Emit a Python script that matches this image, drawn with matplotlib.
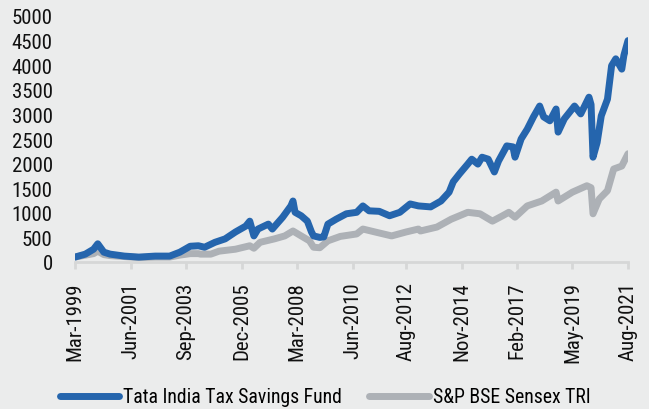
import pandas as pd
import matplotlib
matplotlib.use("Agg")
import matplotlib.pyplot as plt

# month-end style sample points (growth of 100)
fund_dates = ["1999-03", "1999-08", "1999-12", "2000-02", "2000-05", "2000-08", "2001-03",
              "2001-10", "2002-06", "2003-01", "2003-06", "2003-11", "2004-03", "2004-06",
              "2004-11", "2005-04", "2005-09", "2006-02", "2006-04", "2006-06", "2006-08",
              "2007-01", "2007-03", "2007-08", "2007-12", "2008-01", "2008-02", "2008-05",
              "2008-08", "2008-10", "2008-11", "2009-02", "2009-04", "2009-06", "2009-10",
              "2010-03", "2010-08", "2010-11", "2011-02", "2011-07", "2011-12", "2012-05",
              "2012-10", "2013-02", "2013-08", "2014-01", "2014-05", "2014-07", "2014-10",
              "2015-02", "2015-04", "2015-07", "2015-09", "2015-12", "2016-03", "2016-05",
              "2016-09", "2016-12", "2017-01", "2017-04", "2017-07", "2017-10", "2018-01",
              "2018-03", "2018-06", "2018-09", "2018-10", "2019-01", "2019-06", "2019-09",
              "2020-01", "2020-02", "2020-03", "2020-05", "2020-07", "2020-10", "2020-12",
              "2021-02", "2021-05", "2021-06", "2021-08"]
fund = [100, 160, 260, 370, 200, 160, 120,
        100, 120, 120, 200, 320, 330, 300,
        400, 470, 610, 730, 830, 530, 670,
        770, 670, 910, 1140, 1240, 1010, 940,
        830, 610, 530, 500, 510, 770, 870,
        980, 1010, 1140, 1040, 1030, 940, 1010,
        1180, 1140, 1120, 1240, 1420, 1630, 1790,
        1990, 2090, 1990, 2130, 2090, 1830, 2050,
        2360, 2340, 2130, 2500, 2700, 2950, 3170,
        2950, 2870, 3110, 2640, 2910, 3170, 3010,
        3350, 3200, 2130, 2430, 2970, 3310, 3990,
        4130, 3920, 4200, 4500]

idx_dates = ["1999-03", "1999-12", "2000-02", "2000-05", "2000-08", "2001-03", "2001-10",
             "2002-06", "2003-01", "2003-06", "2003-11", "2004-03", "2004-04", "2004-09",
             "2005-01", "2005-09", "2006-04", "2006-06", "2006-09", "2007-04", "2007-09",
             "2008-01", "2008-05", "2008-09", "2008-11", "2009-02", "2009-06", "2009-12",
             "2010-08", "2010-11", "2011-05", "2012-01", "2012-08", "2013-02", "2013-03",
             "2013-11", "2014-06", "2015-02", "2015-08", "2016-02", "2016-07", "2016-10",
             "2017-01", "2017-07", "2018-02", "2018-09", "2018-10", "2019-05", "2019-12",
             "2020-02", "2020-03", "2020-06", "2020-10", "2021-01", "2021-05", "2021-08"]
sensex = [100, 170, 220, 150, 130, 110, 90,
          100, 100, 140, 170, 170, 160, 160,
          220, 260, 330, 280, 400, 470, 530,
          630, 530, 430, 300, 290, 430, 520,
          570, 670, 610, 530, 610, 670, 630,
          710, 870, 1010, 980, 830, 940, 1010,
          910, 1140, 1240, 1420, 1240, 1420, 1550,
          1510, 980, 1280, 1450, 1890, 1950, 2200]

tick_labels = ["Mar-1999", "Jun-2001", "Sep-2003", "Dec-2005", "Mar-2008", "Jun-2010",
               "Aug-2012", "Nov-2014", "Feb-2017", "May-2019", "Aug-2021"]

BLUE, GREY, BG, AXIS = "#2565ad", "#adb1b6", "#ebecec", "#d6d7d7"
plt.rcParams.update({"font.family": ["Roboto Condensed", "Liberation Sans Narrow", "DejaVu Sans"],
                     "font.size": 15})

fig = plt.figure(figsize=(6.49, 4.10), dpi=100, facecolor=BG)
ax = fig.add_axes([75 / 649, 147 / 410, 553 / 649, 246 / 410], facecolor=BG)

fd = pd.to_datetime(fund_dates)
sd = pd.to_datetime(idx_dates)
ax.plot(sd, sensex, color=GREY, lw=5, solid_capstyle="round", solid_joinstyle="round",
        label="S&P BSE Sensex TRI", zorder=2)
ax.plot(fd, fund, color=BLUE, lw=5, solid_capstyle="round", solid_joinstyle="round",
        label="Tata India Tax Savings Fund", zorder=3)

ticks = pd.to_datetime(tick_labels, format="%b-%Y")
ax.set_xticks(ticks)
ax.set_xticklabels(tick_labels, rotation=90)
ax.set_xlim(ticks[0], ticks[-1])
ax.set_ylim(0, 5000)
ax.set_yticks(range(0, 5001, 500))

for s in ["top", "right", "left"]:
    ax.spines[s].set_visible(False)
ax.spines["bottom"].set_color(AXIS)
ax.spines["bottom"].set_linewidth(2)
ax.tick_params(axis="x", color=AXIS, width=2, length=5, pad=9, labelcolor="#111111")
ax.tick_params(axis="y", length=0, pad=16, labelcolor="#111111")

h, l = ax.get_legend_handles_labels()
fig.legend(h[::-1], l[::-1], loc="center", bbox_to_anchor=(325 / 649, 1 - 398 / 410),
           ncol=2, frameon=False, fontsize=14.2, handlelength=3.0, handletextpad=0.2,
           columnspacing=1.4, borderpad=0)

fig.savefig("out.png", dpi=100, facecolor=BG)
